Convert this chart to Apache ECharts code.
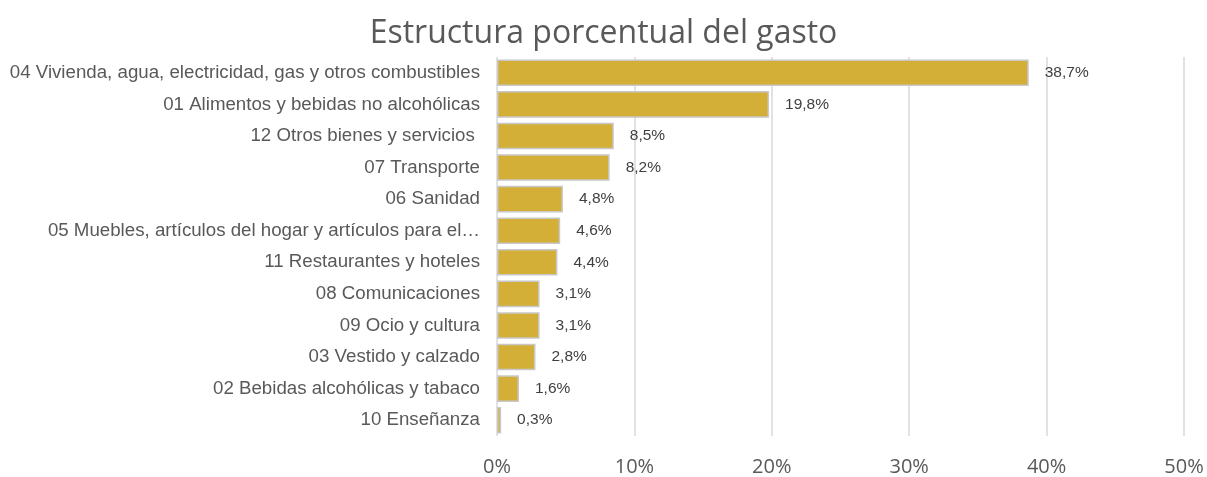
<!DOCTYPE html>
<html>
<head>
<meta charset="utf-8">
<script src="https://cdn.jsdelivr.net/npm/echarts@6/dist/echarts.min.js"></script>
<style>html,body{margin:0;padding:0;background:#fff}#c{width:1207px;height:477px}</style>
</head>
<body>
<div id="c"></div>
<script>
const titleText = "Estructura porcentual del gasto";
const categories = [
  "04 Vivienda, agua, electricidad, gas y otros combustibles",
  "01 Alimentos y bebidas no alcohólicas",
  "12 Otros bienes y servicios ",
  "07 Transporte",
  "06 Sanidad",
  "05 Muebles, artículos del hogar y artículos para el…",
  "11 Restaurantes y hoteles",
  "08 Comunicaciones",
  "09 Ocio y cultura",
  "03 Vestido y calzado",
  "02 Bebidas alcohólicas y tabaco",
  "10 Enseñanza"
];
const values = [38.7, 19.8, 8.5, 8.2, 4.8, 4.6, 4.4, 3.1, 3.1, 2.8, 1.6, 0.3];
const xTicks = [0, 10, 20, 30, 40, 50];

const chart = echarts.init(document.getElementById('c'), null, {renderer: 'canvas'});
chart.setOption({
  animation: false,
  backgroundColor: '#ffffff',
  title: {
    text: titleText,
    left: 'center',
    top: 13,
    textStyle: {fontFamily: 'Open Sans', fontSize: 32, fontWeight: 'normal', color: '#595959'}
  },
  grid: {left: 497, right: 23, top: 57, bottom: 39, containLabel: false},
  xAxis: {
    type: 'value',
    min: xTicks[0],
    max: xTicks[xTicks.length - 1],
    interval: 10,
    axisLine: {show: false},
    axisTick: {show: false},
    splitLine: {show: true, lineStyle: {color: '#d9d9d9', width: 1.5}},
    axisLabel: {
      margin: 21,
      fontFamily: 'Open Sans',
      fontSize: 20,
      color: '#595959',
      formatter: v => v + '%'
    }
  },
  yAxis: {
    type: 'category',
    data: categories,
    inverse: true,
    axisLine: {show: false},
    axisTick: {show: false},
    axisLabel: {
      margin: 17,
      fontFamily: 'Liberation Sans',
      fontSize: 18.7,
      color: '#595959'
    }
  },
  series: [{
    type: 'bar',
    data: values,
    barCategoryGap: '16%',
    itemStyle: {color: '#D4AF37', borderColor: '#C8C8C8', borderWidth: 1.5},
    label: {
      show: true,
      position: 'right',
      distance: 16,
      fontFamily: 'Liberation Sans',
      fontSize: 15.5,
      color: '#404040',
      formatter: p => p.value.toFixed(1).replace('.', ',') + '%'
    }
  }]
});
</script>
</body>
</html>
